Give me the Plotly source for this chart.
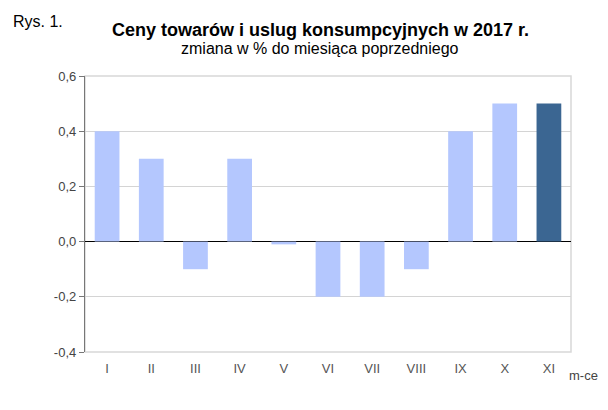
import plotly.graph_objects as go

months = ["I", "II", "III", "IV", "V", "VI", "VII", "VIII", "IX", "X", "XI"]
values = [0.4, 0.3, -0.1, 0.3, -0.01, -0.2, -0.2, -0.1, 0.4, 0.5, 0.5]
colors = ["#B4C7FE"] * 10 + ["#3B6692"]
ytick_vals = [-0.4, -0.2, 0.0, 0.2, 0.4, 0.6]
ytick_text = ["-0,4", "-0,2", "0,0", "0,2", "0,4", "0,6"]

# page is rendered with an 8px body margin; compensate
PW, PH = 486.0, 276.0   # plot area size
PL, PB = 85.0, 352.0    # plot left / bottom in page coords


def px(x):
    return (x - PL) / PW


def py(y):
    return (PB - y) / PH


fig = go.Figure()
fig.add_trace(go.Bar(x=months, y=values, marker=dict(color=colors, line=dict(width=0)),
                     width=0.56))

fig.update_layout(
    width=600, height=402,
    margin=dict(l=77, r=37, t=68, b=58, autoexpand=False),
    plot_bgcolor="white", paper_bgcolor="white",
    font=dict(family="Liberation Sans, Arial, sans-serif", color="#333333"),
    showlegend=False,
)
fig.update_yaxes(range=[-0.4, 0.6], tickvals=ytick_vals, ticktext=ytick_text,
                 showgrid=True, gridcolor="#D4D4D4", gridwidth=1.3,
                 zeroline=True, zerolinecolor="#000000", zerolinewidth=1.3,
                 showline=True, linecolor="#777777", linewidth=1.3,
                 ticks="outside", ticklen=5, tickcolor="#777777",
                 tickfont=dict(size=13, color="#444444"))
fig.update_xaxes(showgrid=False, showline=False, ticks="", ticklabelstandoff=7,
                 tickfont=dict(size=13, color="#555555"))

fig.add_shape(type="rect", xref="paper", yref="paper", x0=0, y0=0, x1=1, y1=1,
              line=dict(color="#D8D8D8", width=1.5), layer="below")

fig.add_annotation(text="Rys. 1.", xref="paper", yref="paper", x=px(11), y=py(21.5),
                   xanchor="left", yanchor="middle", showarrow=False,
                   font=dict(size=16, color="#000000"))
fig.add_annotation(text="<b>Ceny towarów i uslug konsumpcyjnych w 2017 r.</b>",
                   xref="paper", yref="paper", x=px(320), y=py(30),
                   xanchor="center", yanchor="middle", showarrow=False,
                   font=dict(size=18, color="#000000"))
fig.add_annotation(text="zmiana w % do miesiąca poprzedniego",
                   xref="paper", yref="paper", x=px(320), y=py(48),
                   xanchor="center", yanchor="middle", showarrow=False,
                   font=dict(size=16, color="#000000"))
fig.add_annotation(text="m-ce", xref="paper", yref="paper", x=px(567), y=py(375),
                   xanchor="left", yanchor="middle", showarrow=False,
                   font=dict(size=13, color="#444444"))

fig.write_html("out.html")
